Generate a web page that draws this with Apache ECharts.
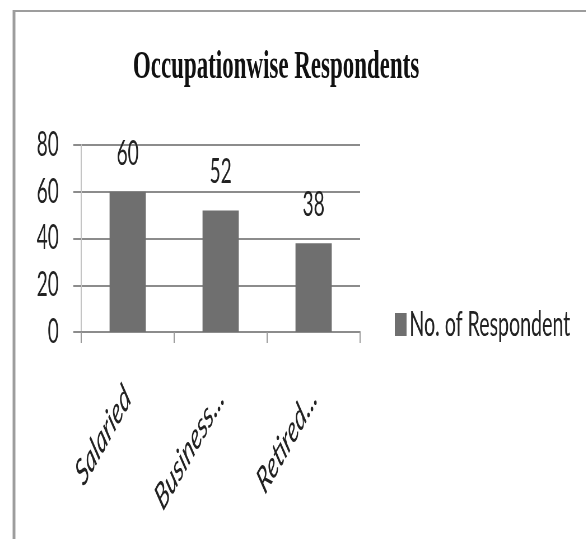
<!DOCTYPE html>
<html>
<head>
<meta charset="utf-8">
<script src="https://cdn.jsdelivr.net/npm/echarts@6/dist/echarts.min.js"></script>
<style>
  html, body { margin: 0; padding: 0; background: #ffffff; overflow: hidden; width: 586px; height: 539px; }
  /* The chart is laid out on a wider canvas and narrowed horizontally, giving the condensed look */
  #chart { width: 1046px; height: 539px; transform: scaleX(0.56); transform-origin: 0 0; }
</style>
</head>
<body>
<div id="chart"></div>
<script>
// Data
const categories = ['Salaried', 'Business...', 'Retired...'];
const respondents = [60, 52, 38];
const yTicks = [0, 20, 40, 60, 80];
const seriesName = 'No. of Respondent';
const chartTitle = 'Occupationwise Respondents';

const chart = echarts.init(document.getElementById('chart'), null, { renderer: 'canvas' });

const gridColor = '#8c8c8c';
const textColor = '#222222';
const sansFont = 'Lato';

chart.setOption({
  animation: false,
  backgroundColor: '#ffffff',
  title: {
    text: chartTitle,
    left: 488,
    top: 42,
    textAlign: 'center',
    textStyle: {
      fontFamily: 'Liberation Serif',
      fontWeight: 'bold',
      fontSize: 41,
      color: '#111111'
    }
  },
  legend: {
    data: [seriesName],
    left: 700,
    top: 302,
    icon: 'rect',
    itemWidth: 21,
    itemHeight: 23,
    textStyle: { fontFamily: sansFont, fontSize: 35, color: textColor }
  },
  grid: {
    left: 145,
    right: 403,
    top: 145,
    bottom: 207,
    containLabel: false
  },
  xAxis: {
    type: 'category',
    data: categories,
    axisLine: { show: true, lineStyle: { color: gridColor, width: 2 } },
    axisTick: { show: true, length: 11, lineStyle: { color: '#9a9a9a', width: 2 } },
    axisLabel: {
      rotate: 45,
      margin: 60,
      fontFamily: sansFont,
      fontStyle: 'italic',
      fontSize: 37,
      color: textColor
    }
  },
  yAxis: {
    type: 'value',
    min: yTicks[0],
    max: yTicks[yTicks.length - 1],
    interval: yTicks[1] - yTicks[0],
    axisLine: { show: true, lineStyle: { color: '#c4c4c4', width: 2 } },
    axisTick: { show: true, length: 14, lineStyle: { color: gridColor, width: 2 } },
    splitLine: { show: true, lineStyle: { color: gridColor, width: 2 } },
    axisLabel: {
      margin: 40,
      fontFamily: sansFont,
      fontSize: 34,
      color: textColor
    }
  },
  series: [{
    name: seriesName,
    type: 'bar',
    data: respondents,
    barWidth: '39%',
    itemStyle: { color: '#6f6f6f' },
    label: {
      show: true,
      position: 'top',
      distance: 21,
      fontFamily: sansFont,
      fontSize: 34,
      color: textColor
    }
  }],
  graphic: [
    {
      type: 'line',
      shape: { x1: 25, y1: 11, x2: 1046, y2: 11 },
      style: { stroke: '#9d9d9d', lineWidth: 2 },
      silent: true
    },
    {
      type: 'line',
      shape: { x1: 25, y1: 10, x2: 25, y2: 539 },
      style: { stroke: '#9d9d9d', lineWidth: 5 },
      silent: true
    }
  ]
});
</script>
</body>
</html>
